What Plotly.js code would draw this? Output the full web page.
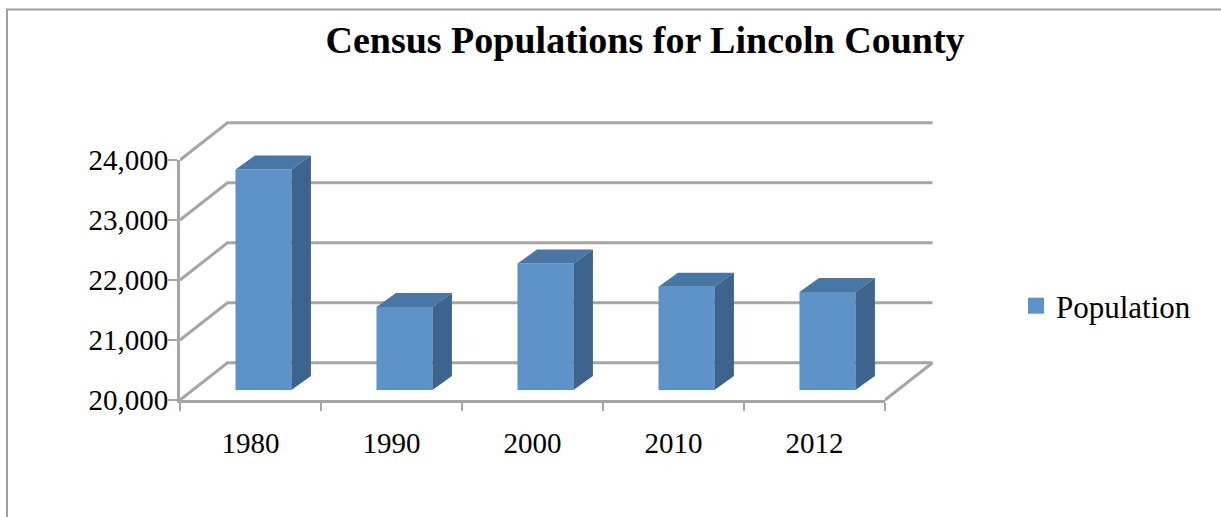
<!DOCTYPE html>
<html>
<head>
<meta charset="utf-8">
<script src="https://cdn.plot.ly/plotly-3.0.1.min.js"></script>
<style>html,body{margin:0;padding:0;background:#fff;}#chart{width:1221px;height:517px;}</style>
</head>
<body>
<div id="chart"></div>
<script>
// ---- data ----
const categories = ['1980', '1990', '2000', '2010', '2012'];
const population = [23675, 21382, 22108, 21720, 21633];
const yTickValues = [20000, 21000, 22000, 23000, 24000];
const seriesName = 'Population';
const chartTitle = 'Census Populations for Lincoln County';

// ---- styling / pseudo-3D geometry (in axis units) ----
const FONT = 'Liberation Serif, Times New Roman, serif';
const GRID = '#a6a6a6';
const FRONT = '#5d93c9', TOP = '#4876a5', SIDE = '#3e638c';
const WALL_DX = 0.337, WALL_DY = 620;      // depth of the back wall
const FACE_DX = 0.092, FACE_DY = 167;      // bar front-face offset from the front plane
const BAR_W = 0.397, BAR_DDX = 0.138, BAR_DDY = 233; // bar width and depth
const baseVal = yTickValues[0];
const n = categories.length;

// plot area in pixels: x 180..940, y 110..401 ; 141 px per category, 60 px per 1000
const W = 1221, H = 517, L = 180, R = 281, T = 110, B = 116;
const pxPerCat = 141, pxPerUnit = 60 / 1000;
const xRange = [0, (W - L - R) / pxPerCat];
const yRange = [baseVal - 1 / pxPerUnit, baseVal + (H - B - T - 1) / pxPerUnit];

const traces = [];
// back wall gridlines + left wall diagonals
yTickValues.forEach(v => {
  const xs = [0, WALL_DX, n + WALL_DX];
  const ys = [v, v + WALL_DY, v + WALL_DY];
  if (v === baseVal) { xs.push(null, n, n + WALL_DX); ys.push(null, v, v + WALL_DY); }
  traces.push({type: 'scatter', mode: 'lines', x: xs, y: ys, line: {color: GRID, width: 3},
    hoverinfo: 'skip', showlegend: false, xaxis: 'x', yaxis: 'y'});
});

// bars
population.forEach((val, i) => {
  const xl = i + 0.5 - BAR_W / 2 + FACE_DX, xr = xl + BAR_W;
  const b = baseVal + FACE_DY, t = val + FACE_DY;
  const poly = (xs, ys, c) => traces.push({type: 'scatter', mode: 'lines', fill: 'toself', fillcolor: c,
    x: xs, y: ys, line: {width: 0, color: c}, hoverinfo: 'skip', showlegend: false});
  poly([xl, xr, xr, xl, xl], [b, b, t, t, b], FRONT);
  poly([xl, xr, xr + BAR_DDX, xl + BAR_DDX, xl], [t, t, t + BAR_DDY, t + BAR_DDY, t], TOP);
  poly([xr, xr + BAR_DDX, xr + BAR_DDX, xr, xr], [b, b + BAR_DDY, t + BAR_DDY, t, b], SIDE);
});

// legend entry
traces.push({type: 'scatter', mode: 'markers', x: [null], y: [null], name: seriesName,
  marker: {symbol: 'square', size: 16, color: FRONT}, showlegend: true});
// dummy for the front-edge axes subplot
traces.push({type: 'scatter', mode: 'markers', x: [null], y: [null], xaxis: 'x2', yaxis: 'y2',
  showlegend: false, hoverinfo: 'skip'});

const plotH = H - T - B;
const layout = {
  width: W, height: H,
  margin: {l: L, r: R, t: T, b: B, pad: 0},
  paper_bgcolor: '#fff', plot_bgcolor: 'rgba(0,0,0,0)',
  font: {family: FONT, color: '#000', size: 29},
  title: {text: '<b>' + chartTitle + '</b>', font: {family: FONT, size: 38, color: '#000'},
    xref: 'container', yref: 'container', x: 645 / W, y: 1 - 40 / H, xanchor: 'center', yanchor: 'middle'},
  showlegend: true,
  legend: {xref: 'container', yref: 'container', x: 1016 / W, y: 1 - 306 / H, xanchor: 'left', yanchor: 'middle',
    font: {family: FONT, size: 31, color: '#000'}, bgcolor: 'rgba(0,0,0,0)', itemsizing: 'trace'},
  xaxis: {range: xRange, showgrid: false, zeroline: false, showline: false,
    tickmode: 'array', tickvals: categories.map((c, i) => i + 0.5), ticktext: categories,
    ticks: 'outside', ticklen: 16, tickcolor: 'rgba(0,0,0,0)', tickfont: {family: FONT, size: 29, color: '#000'},
    fixedrange: true},
  yaxis: {range: yRange, visible: false, showgrid: false, zeroline: false, fixedrange: true},
  xaxis2: {domain: [0, n * pxPerCat / (W - L - R)], range: [0, n], anchor: 'y2',
    showgrid: false, zeroline: false, showline: true, linecolor: GRID, linewidth: 3,
    tickmode: 'array', tickvals: categories.map((c, i) => i).concat([n]), showticklabels: false,
    ticks: 'outside', ticklen: 8, tickwidth: 2, tickcolor: GRID, fixedrange: true},
  yaxis2: {domain: [1 / plotH, (H - B - 160) / plotH], range: [yTickValues[0], yTickValues[yTickValues.length - 1]],
    anchor: 'x2', showgrid: false, zeroline: false, showline: true, linecolor: GRID, linewidth: 3,
    tickmode: 'array', tickvals: yTickValues, tickformat: ',d',
    ticks: 'outside', ticklen: 9, tickwidth: 2, tickcolor: GRID, ticklabelstandoff: -6,
    tickfont: {family: FONT, size: 29, color: '#000'}, fixedrange: true},
  shapes: [{type: 'rect', xref: 'paper', yref: 'paper', layer: 'below',
    x0: (7 - L) / (W - L - R), x1: (W + 10 - L) / (W - L - R),
    y0: (H - B - (H + 10)) / plotH, y1: (H - B - 9.5) / plotH,
    line: {color: '#a0a0a0', width: 2}, fillcolor: 'rgba(0,0,0,0)'}]
};

Plotly.newPlot('chart', traces, layout, {displayModeBar: false, staticPlot: true});
</script>
</body>
</html>
